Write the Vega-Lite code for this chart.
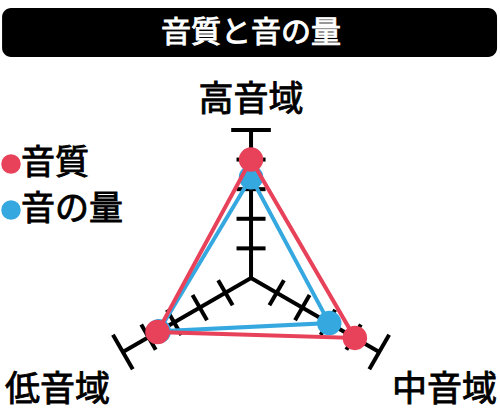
{
  "$schema": "https://vega.github.io/schema/vega-lite/v6.json",
  "width": 500,
  "height": 418,
  "autosize": {"type": "fit", "contains": "padding"},
  "padding": 0,
  "background": "white",
  "config": {"view": {"stroke": null}, "font": "Noto Sans CJK JP"},
  "datasets": {
    "scores": [
      {"series": "音質", "axis": "高音域", "k": 0, "value": 4.0},
      {"series": "音質", "axis": "中音域", "k": 1, "value": 4.05},
      {"series": "音質", "axis": "低音域", "k": 2, "value": 3.65},
      {"series": "音の量", "axis": "高音域", "k": 0, "value": 3.4},
      {"series": "音の量", "axis": "中音域", "k": 1, "value": 3.05},
      {"series": "音の量", "axis": "低音域", "k": 2, "value": 3.6}
    ],
    "axes": [
      {"axis": "高音域", "k": 0, "ticks": [1, 2, 3, 4, 5]},
      {"axis": "中音域", "k": 1, "ticks": [1, 2, 3, 4, 5]},
      {"axis": "低音域", "k": 2, "ticks": [1, 2, 3, 4, 5]}
    ],
    "title": [{"text": "音質と音の量"}]
  },
  "layer": [
    {
      "data": {"name": "title"},
      "transform": [
        {"calculate": "-8.41", "as": "bx1"},
        {"calculate": "8.31", "as": "bx2"},
        {"calculate": "9.12", "as": "by1"},
        {"calculate": "7.465", "as": "by2"},
        {"calculate": "0", "as": "tx"},
        {"calculate": "8.28", "as": "ty"}
      ],
      "layer": [
        {
          "mark": {"type": "rect", "color": "black", "cornerRadius": 9},
          "encoding": {
            "x": {"field": "bx1", "type": "quantitative", "scale": {"domain": [-8.48, 8.41], "nice": false, "zero": false}, "axis": null},
            "x2": {"field": "bx2"},
            "y": {"field": "by1", "type": "quantitative", "scale": {"domain": [-4.73, 9.39], "nice": false, "zero": false}, "axis": null},
            "y2": {"field": "by2"}
          }
        },
        {
          "mark": {"type": "text", "color": "white", "stroke": "white", "strokeWidth": 0.9, "fontSize": 30, "fontWeight": "normal", "baseline": "middle", "align": "center"},
          "encoding": {
            "x": {"field": "tx", "type": "quantitative"},
            "y": {"field": "ty", "type": "quantitative"},
            "text": {"field": "text", "type": "nominal"}
          }
        }
      ]
    },
    {
      "data": {"name": "axes"},
      "transform": [
        {"calculate": "PI/2 - datum.k*2*PI/3", "as": "a"},
        {"calculate": "0", "as": "ox"},
        {"calculate": "0", "as": "oy"},
        {"calculate": "5*cos(datum.a)", "as": "ex"},
        {"calculate": "5*sin(datum.a)", "as": "ey"}
      ],
      "mark": {"type": "rule", "color": "black", "strokeWidth": 4},
      "encoding": {
        "x": {"field": "ox", "type": "quantitative"},
        "y": {"field": "oy", "type": "quantitative"},
        "x2": {"field": "ex"},
        "y2": {"field": "ey"}
      }
    },
    {
      "data": {"name": "axes"},
      "transform": [
        {"flatten": ["ticks"], "as": ["t"]},
        {"calculate": "PI/2 - datum.k*2*PI/3", "as": "a"},
        {"calculate": "datum.t == 5 ? 0.67 : 0.49", "as": "h"},
        {"calculate": "datum.t*cos(datum.a) + datum.h*sin(datum.a)", "as": "tx1"},
        {"calculate": "datum.t*sin(datum.a) - datum.h*cos(datum.a)", "as": "ty1"},
        {"calculate": "datum.t*cos(datum.a) - datum.h*sin(datum.a)", "as": "tx2"},
        {"calculate": "datum.t*sin(datum.a) + datum.h*cos(datum.a)", "as": "ty2"}
      ],
      "mark": {"type": "rule", "color": "black", "strokeWidth": 4},
      "encoding": {
        "x": {"field": "tx1", "type": "quantitative"},
        "y": {"field": "ty1", "type": "quantitative"},
        "x2": {"field": "tx2"},
        "y2": {"field": "ty2"}
      }
    },
    {
      "data": {"name": "axes"},
      "transform": [
        {"calculate": "PI/2 - datum.k*2*PI/3", "as": "a"},
        {"calculate": "datum.k == 0 ? 6.0 : 7.55", "as": "lr"},
        {"calculate": "datum.lr*cos(datum.a)", "as": "lx"},
        {"calculate": "datum.lr*sin(datum.a)", "as": "ly"}
      ],
      "mark": {"type": "text", "color": "black", "stroke": "black", "strokeWidth": 0.9, "fontSize": 35, "fontWeight": "normal", "align": "center", "baseline": "middle"},
      "encoding": {
        "x": {"field": "lx", "type": "quantitative"},
        "y": {"field": "ly", "type": "quantitative"},
        "text": {"field": "axis", "type": "nominal"}
      }
    },
    {
      "data": {"name": "scores"},
      "transform": [
        {"calculate": "PI/2 - datum.k*2*PI/3", "as": "a"},
        {"calculate": "datum.value*cos(datum.a)", "as": "px"},
        {"calculate": "datum.value*sin(datum.a)", "as": "py"},
        {"calculate": "datum.series == '音質' ? 1 : 0", "as": "z"}
      ],
      "encoding": {
        "x": {"field": "px", "type": "quantitative"},
        "y": {"field": "py", "type": "quantitative"},
        "color": {
          "field": "series",
          "type": "nominal",
          "scale": {"domain": ["音質", "音の量"], "range": ["#e8415a", "#36a8e0"]},
          "legend": {
            "orient": "none",
            "legendX": -6,
            "legendY": 147,
            "title": null,
            "padding": 0,
            "symbolType": "circle",
            "symbolSize": 380,
            "symbolStrokeWidth": 0,
            "symbolOpacity": 1,
            "labelFontSize": 34,
            "labelFontWeight": "normal",
            "labelFont": "Noto Sans CJK JP",
            "labelColor": "black",
            "labelOffset": -7,
            "rowPadding": 12,
            "labelLimit": 300,
            "encode": {
              "labels": {"update": {"stroke": {"value": "black"}, "strokeWidth": {"value": 0.9}}}
            }
          }
        }
      },
      "layer": [
        {
          "transform": [{"filter": "datum.z == 0"}],
          "mark": {"type": "line", "interpolate": "linear-closed", "strokeWidth": 4},
          "encoding": {"order": {"field": "k", "type": "quantitative"}}
        },
        {
          "transform": [{"filter": "datum.z == 0"}],
          "mark": {"type": "circle", "opacity": 1, "size": 600}
        },
        {
          "transform": [{"filter": "datum.z == 1"}],
          "mark": {"type": "line", "interpolate": "linear-closed", "strokeWidth": 4},
          "encoding": {"order": {"field": "k", "type": "quantitative"}}
        },
        {
          "transform": [{"filter": "datum.z == 1"}],
          "mark": {"type": "circle", "opacity": 1, "size": 600}
        }
      ]
    }
  ]
}
